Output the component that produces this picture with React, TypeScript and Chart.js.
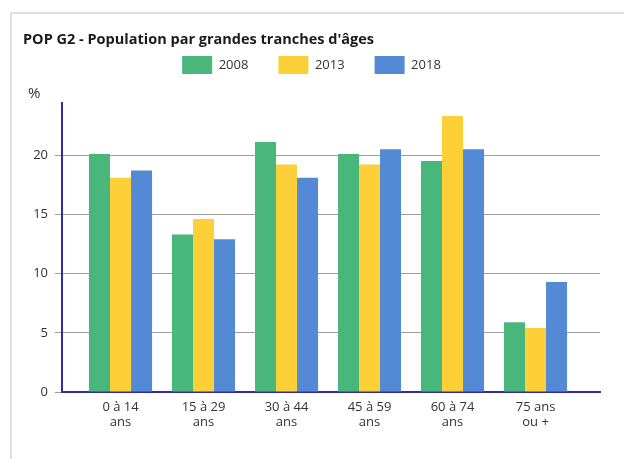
import React, { useEffect, useRef } from 'react';
import { Chart, registerables } from 'chart.js';

Chart.register(...registerables);

const titleText = "POP G2 - Population par grandes tranches d'âges";
const categories: string[][] = [
  ['0 à 14', 'ans'],
  ['15 à 29', 'ans'],
  ['30 à 44', 'ans'],
  ['45 à 59', 'ans'],
  ['60 à 74', 'ans'],
  ['75 ans', 'ou +'],
];
const years = ['2008', '2013', '2018'];
const values2008 = [20.1, 13.3, 21.1, 20.1, 19.5, 5.9];
const values2013 = [18.1, 14.6, 19.2, 19.2, 23.3, 5.4];
const values2018 = [18.7, 12.9, 18.1, 20.5, 20.5, 9.3];
const yTicks = [0, 5, 10, 15, 20];
const yUnit = '%';

const colors = ['#49b77b', '#fed037', '#5489d5'];
const FONT = "'Open Sans', 'Noto Sans', sans-serif";

export default function App() {
  const ref = useRef<HTMLCanvasElement | null>(null);

  useEffect(() => {
    if (!ref.current) return;
    Chart.defaults.font.family = FONT;
    const series = [values2008, values2013, values2018];

    const unitPlugin = {
      id: 'unitLabel',
      afterDraw(chart: any) {
        const { ctx, chartArea } = chart;
        ctx.save();
        ctx.font = `15px ${FONT}`;
        ctx.fillStyle = '#333';
        ctx.textAlign = 'left';
        ctx.textBaseline = 'alphabetic';
        ctx.fillText(yUnit, chartArea.left - 34, chartArea.top - 5);
        ctx.restore();
      },
    };

    // extra gap between the legend and the plot area
    const legendGapPlugin = {
      id: 'legendGap',
      afterInit(chart: any) {
        const lg = chart.legend;
        if (!lg || lg.__gapPatched) return;
        const origFit = lg.fit.bind(lg);
        lg.fit = function () {
          origFit();
          this.height += 19;
        };
        lg.__gapPatched = true;
      },
    };

    const chart = new Chart(ref.current, {
      type: 'bar',
      data: {
        datasets: series.map((s, k) => ({
          label: years[k],
          data: s.map((v, i) => ({ x: i, y: v })),
          backgroundColor: colors[k],
          borderWidth: 0,
          barPercentage: 1,
          categoryPercentage: 0.76,
        })),
      },
      options: {
        animation: false,
        responsive: false,
        events: [],
        layout: { padding: { left: 11, right: 24, top: 0, bottom: 21 } },
        plugins: {
          title: {
            display: true,
            text: titleText,
            align: 'start',
            color: '#1a1a1a',
            font: { size: 14.5, weight: 'bold', family: FONT },
            padding: { top: 17.3, bottom: -22.7 },
          },
          legend: {
            display: true,
            position: 'top',
            align: 'center',
            labels: {
              boxWidth: 30,
              boxHeight: 18,
              padding: 30,
              color: '#333',
              font: { size: 13, family: FONT },
            },
          },
          tooltip: { enabled: false },
        },
        scales: {
          x: {
            type: 'linear',
            min: -0.705,
            max: 5.777,
            offset: false,
            z: 1,
            grid: { display: false, offset: false, drawTicks: false },
            border: { display: true, color: '#2e2e9c', width: 2 },
            afterBuildTicks: (s: any) => {
              s.ticks = categories.map((_, i) => ({ value: i }));
            },
            ticks: {
              autoSkip: false,
              maxRotation: 0,
              padding: 8,
              color: '#333',
              font: { size: 13, lineHeight: 1.15, family: FONT },
              callback: (v: any) => categories[Number(v)],
            },
          },
          y: {
            type: 'linear',
            min: 0,
            max: 24.4,
            z: 1,
            afterBuildTicks: (s: any) => {
              s.ticks = yTicks.map((v) => ({ value: v }));
            },
            afterFit: (s: any) => {
              s.width = 39;
            },
            grid: {
              color: (c: any) => (c.tick && c.tick.value === 0 ? 'rgba(0,0,0,0)' : 'rgba(0,0,0,0.38)'),
              tickColor: 'rgba(0,0,0,0.38)',
              tickLength: 7,
              drawTicks: true,
              lineWidth: 1,
            },
            border: { display: true, color: '#2e2e9c', width: 2 },
            ticks: {
              color: '#333',
              padding: 7,
              font: { size: 13, family: FONT },
            },
          },
        },
      } as any,
      plugins: [legendGapPlugin, unitPlugin],
    });
    return () => chart.destroy();
  }, []);

  return (
    <div
      style={{
        position: 'absolute',
        left: 10,
        top: 12,
        width: 614,
        height: 447,
        borderTop: '2px solid #e0e0e0',
        borderLeft: '2px solid #e0e0e0',
        boxSizing: 'border-box',
        background: '#fff',
      }}
    >
      <canvas
        ref={ref}
        width={612}
        height={445}
        style={{ position: 'absolute', left: 0, top: 0, display: 'block' }}
      />
    </div>
  );
}
